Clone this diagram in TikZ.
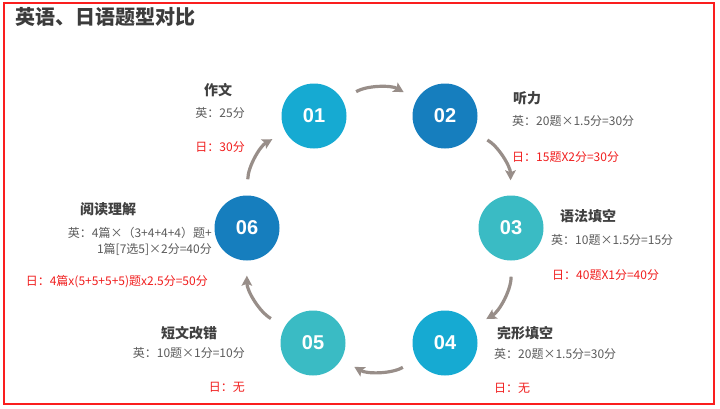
\documentclass[tikz,border=0pt]{standalone}
\usepackage{fontspec}
\setmainfont{Noto Sans CJK SC}
\newfontfamily\numfont{Liberation Sans}
\usetikzlibrary{arrows.meta}
\definecolor{cLight}{RGB}{22,170,210}
\definecolor{cDark}{RGB}{22,126,190}
\definecolor{cTeal}{RGB}{58,187,196}
\definecolor{arrowgrey}{RGB}{152,142,137}
\definecolor{titlegrey}{RGB}{60,60,60}
\definecolor{headgrey}{RGB}{64,64,64}
\definecolor{bodygrey}{RGB}{90,90,90}
\definecolor{jred}{RGB}{240,30,30}
\definecolor{borderred}{RGB}{250,30,30}
\begin{document}
\begin{tikzpicture}[x=1pt,y=1pt,
  num/.style={circle,minimum size=65pt,inner sep=0,text=white,font=\numfont\bfseries\fontsize{20}{20}\selectfont},
  arr/.style={draw=arrowgrey,line width=3.2pt,-{Stealth[length=10pt,width=10.5pt,inset=2pt]},shorten <=16pt,shorten >=15pt},
  head/.style={font=\bfseries\fontsize{14}{14}\selectfont,text=headgrey,inner sep=0},
  body/.style={font=\fontsize{12}{12}\selectfont,text=bodygrey,inner sep=0},
  jp/.style={font=\fontsize{12}{12}\selectfont,text=jred,inner sep=0}]
\useasboundingbox (0,0) rectangle (720,408);
\draw[borderred,line width=2pt] (3.5,4) rectangle (714,404.5);
\node[anchor=west,inner sep=0,text=titlegrey,font=\bfseries\fontsize{20}{20}\selectfont] (title) at (15,391) {英语、日语题型对比};
% circles
\node[num,fill=cLight] (n1) at (314,292) {01};
\node[num,fill=cDark]  (n2) at (445,292) {02};
\node[num,fill=cTeal]  (n3) at (511,180) {03};
\node[num,fill=cLight] (n4) at (445,65) {04};
\node[num,fill=cTeal]  (n5) at (313,65) {05};
\node[num,fill=cDark]  (n6) at (247,180) {06};
% arrows
\draw[arr] (n1) to[bend left=30] (n2);
\draw[arr] (n2) to[bend left=30] (n3);
\draw[arr] (n3) to[bend left=30] (n4);
\draw[arr] (n4) to[bend left=30] (n5);
\draw[arr] (n5) to[bend left=30] (n6);
\draw[arr] (n6) to[bend left=30] (n1);
% 01
\node[head] (h1) at (218,318) {作文};
\node[body,anchor=east] (e1) at (245,295) {英：25分};
\node[jp,anchor=east] (j1) at (245,261) {日：30分};
% 02
\node[head,anchor=west] (h2) at (513,310) {听力};
\node[body,anchor=west] (e2) at (512,287) {英：20题×1.5分=30分};
\node[jp,anchor=west] (j2) at (512,251) {日：15题X2分=30分};
% 03
\node[head,anchor=west] (h3) at (560,192) {语法填空};
\node[body,anchor=west] (e3) at (551,168) {英：10题×1.5分=15分};
\node[jp,anchor=west] (j3) at (552,133) {日：40题X1分=40分};
% 04
\node[head,anchor=west] (h4) at (497,75) {完形填空};
\node[body,anchor=west] (e4) at (494,54) {英：20题×1.5分=30分};
\node[jp,anchor=west] (j4) at (494,20) {日：无};
% 05
\node[head] (h5) at (189,75) {短文改错};
\node[body,anchor=east] (e5) at (245,55) {英：10题×1分=10分};
\node[jp,anchor=east] (j5) at (245,21) {日：无};
% 06
\node[head,anchor=west] (h6) at (80,199) {阅读理解};
\node[body,anchor=east] (e6a) at (212,175) {英：4篇×（3+4+4+4）题+};
\node[body,anchor=east] (e6b) at (212,159) {1篇[7选5]×2分=40分};
\node[jp,anchor=east] (j6) at (208,126) {日：4篇x(5+5+5+5)题x2.5分=50分};
\end{tikzpicture}
\end{document}
